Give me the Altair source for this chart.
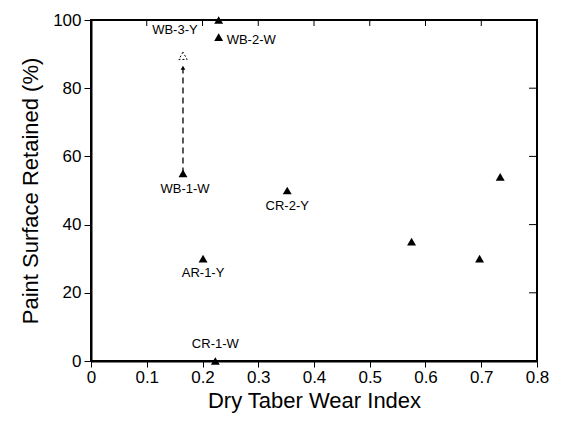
import altair as alt
import pandas as pd

# data
wear = [0.229, 0.229, 0.165, 0.352, 0.201, 0.223, 0.575, 0.697, 0.734]
retained = [100, 95, 55, 50, 30, 0, 35, 30, 54]
names = ["WB-3-Y", "WB-2-W", "WB-1-W", "CR-2-Y", "AR-1-Y", "CR-1-W", "", "", ""]

# WB-1-W improvement arrow (dashed) to open triangle
arrow_x = [0.165, 0.165]
arrow_y = [55, 86]
open_x = [0.165]
open_y = [89.5]

x_ticks = [0, 0.1, 0.2, 0.3, 0.4, 0.5, 0.6, 0.7, 0.8]
y_ticks = [0, 20, 40, 60, 80, 100]

FONT = "Liberation Sans"

df = pd.DataFrame({"x": wear, "y": retained, "name": names})
arr = pd.DataFrame({"x": arrow_x, "y": arrow_y})
opn = pd.DataFrame({"x": open_x, "y": open_y})
head = pd.DataFrame({"x": [arrow_x[1]], "y": [arrow_y[1]]})
xt = pd.DataFrame({"x": x_ticks[1:-1]})
yt = pd.DataFrame({"y": y_ticks[1:-1]})

xs = alt.Scale(domain=[0, 0.8], nice=False, zero=False)
ys = alt.Scale(domain=[0, 100], nice=False, zero=False)

xaxis = alt.Axis(values=x_ticks, format="~g", title="Dry Taber Wear Index",
                 grid=False, tickSize=6, tickColor="black", domainColor="black",
                 domainWidth=2, labelFont=FONT, labelFontSize=17, labelColor="black",
                 titleFont=FONT, titleFontSize=22, titleFontWeight="normal",
                 titleColor="black", labelPadding=2, titlePadding=5, labelFlush=False)
yaxis = alt.Axis(values=y_ticks, title="Paint Surface Retained (%)",
                 grid=False, tickSize=7, tickColor="black", domainColor="black",
                 domainWidth=2, labelFont=FONT, labelFontSize=17, labelColor="black",
                 titleFont=FONT, titleFontSize=22, titleFontWeight="normal",
                 titleColor="black", labelPadding=3, titlePadding=10)

X = lambda: alt.X("x:Q", scale=xs, axis=xaxis)
Y = lambda: alt.Y("y:Q", scale=ys, axis=yaxis)

base = alt.Chart(df)

points = base.mark_point(shape="triangle-up", filled=True, color="black",
                         size=80, opacity=1, clip=False).encode(x=X(), y=Y())

# inward ticks on the top and right frame
top_ticks = alt.Chart(xt).mark_rule(color="black", strokeWidth=1).encode(
    x=X(), y=alt.value(0), y2=alt.value(6))
right_ticks = alt.Chart(yt).mark_rule(color="black", strokeWidth=1).encode(
    y=Y(), x=alt.value(438), x2=alt.value(446))

dash = alt.Chart(arr).mark_line(color="black", strokeDash=[6, 4], strokeWidth=1.3).encode(
    x=X(), y=Y())
arrowhead = alt.Chart(head).mark_point(shape="triangle-up", filled=True, color="black",
                                       size=22, opacity=1).encode(x=X(), y=Y())
open_tri = alt.Chart(opn).mark_point(shape="triangle-up", filled=False, color="black",
                                     size=70, strokeWidth=1, strokeDash=[2, 2],
                                     opacity=1).encode(x=X(), y=Y())

# label placements (style: alignment and pixel offsets)
label_style = {
    "WB-3-Y": ("right", -21, 10),
    "WB-2-W": ("left", 8, 3),
    "WB-1-W": ("center", 2, 16),
    "CR-2-Y": ("center", 0, 15),
    "AR-1-Y": ("center", 0, 14),
    "CR-1-W": ("center", 0, -17),
}
texts = []
for nm, (al, dx, dy) in label_style.items():
    t = base.transform_filter(alt.datum.name == nm).mark_text(
        align=al, baseline="middle", dx=dx, dy=dy, font=FONT, fontSize=13,
        color="black").encode(x=X(), y=Y(), text="name:N")
    texts.append(t)

chart = alt.layer(points, top_ticks, right_ticks, dash, arrowhead, open_tri, *texts).properties(
    width=446, height=341,
    autosize=alt.AutoSizeParams(type="none"),
    padding={"left": 83, "top": 12, "right": 16, "bottom": 52},
).configure(background="white").configure_view(stroke="black", strokeWidth=2)

chart.save("out.html", embed_options={"renderer": "svg", "actions": False})
